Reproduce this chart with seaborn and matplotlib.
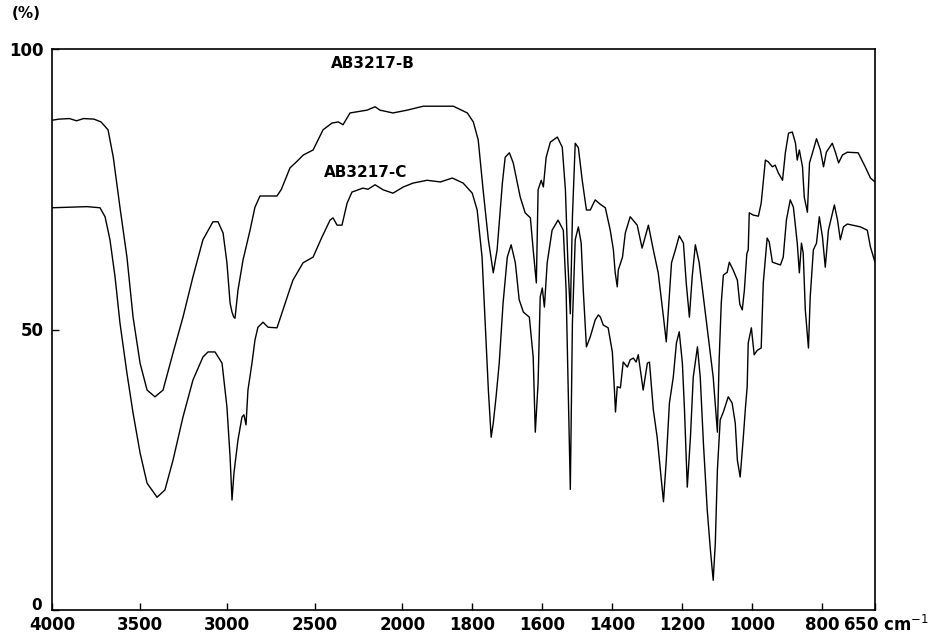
import numpy as np
import pandas as pd
import matplotlib
matplotlib.use("Agg")
import matplotlib.pyplot as plt
import seaborn as sns

# ---- data (wavenumber cm-1, transmittance %) ----
wn_b = [4000, 3960, 3900, 3860, 3820, 3760, 3720, 3680, 3650, 3612, 3572, 3537, 3497, 3457,
        3412, 3366, 3309, 3252, 3195, 3138, 3081, 3052, 3023, 3001, 2983, 2972, 2962, 2955,
        2938, 2909, 2869, 2841, 2812, 2715, 2690, 2641, 2600, 2565, 2509, 2452, 2401, 2365,
        2338, 2298, 2201, 2155, 2127, 2053, 1986, 1940, 1854, 1814, 1797, 1783, 1769, 1754,
        1740, 1729, 1714, 1706, 1694, 1683, 1663, 1649, 1634, 1626, 1617, 1612, 1603, 1597,
        1589, 1577, 1557, 1543, 1534, 1527, 1520, 1514, 1506, 1497, 1486, 1474, 1463, 1449,
        1434, 1420, 1406, 1397, 1392, 1386, 1383, 1371, 1363, 1349, 1329, 1315, 1297, 1283,
        1269, 1254, 1246, 1240, 1231, 1220, 1209, 1197, 1189, 1180, 1172, 1163, 1152, 1140,
        1126, 1112, 1100, 1095, 1089, 1083, 1072, 1066, 1055, 1043, 1036, 1029, 1023, 1016,
        1012, 1009, 998, 983, 975, 963, 955, 943, 935, 926, 914, 906, 897, 886, 877, 872,
        866, 857, 852, 843, 837, 828, 817, 806, 797, 789, 772, 763, 754, 743, 729, 698, 678,
        663, 650]
t_b = [87.3, 87.5, 87.6, 87.2, 87.6, 87.5, 87.0, 85.6, 80.7, 71.8, 62.9, 52.2, 44.0, 39.2,
       38.0, 39.2, 45.8, 52.2, 59.4, 66.0, 69.2, 69.2, 67.2, 61.9, 54.7, 53.1, 52.2, 52.0,
       57.0, 62.4, 67.7, 71.8, 73.8, 73.8, 75.0, 78.8, 80.0, 81.1, 82.0, 85.6, 86.8, 87.0,
       86.5, 88.6, 89.1, 89.7, 89.1, 88.6, 89.1, 89.8, 89.8, 88.6, 87.0, 83.8, 74.9, 66.0,
       60.1, 64.2, 76.1, 80.7, 81.5, 79.7, 73.6, 70.8, 69.9, 64.2, 58.3, 74.9, 76.6, 75.4,
       80.7, 83.4, 84.3, 82.5, 74.9, 62.0, 52.8, 70.0, 83.2, 82.4, 76.6, 71.3, 71.3, 73.1,
       72.3, 71.7, 67.7, 64.2, 60.2, 57.6, 60.6, 62.9, 67.2, 70.1, 68.6, 64.5, 68.6, 64.2,
       60.1, 52.2, 47.8, 53.5, 61.9, 64.2, 66.7, 65.4, 58.3, 52.2, 59.4, 65.1, 61.9, 55.8,
       48.7, 41.5, 31.7, 44.6, 54.7, 59.7, 60.2, 62.0, 60.6, 58.8, 54.5, 53.5, 57.0, 63.5,
       64.2, 70.8, 70.4, 70.2, 72.5, 80.2, 79.9, 79.0, 79.3, 77.9, 76.6, 81.5, 85.0, 85.2,
       83.2, 80.2, 82.0, 79.0, 73.6, 70.9, 79.7, 81.6, 84.0, 82.0, 79.0, 81.6, 83.2, 81.6,
       79.7, 81.1, 81.6, 81.5, 79.0, 77.0, 76.3]

wn_c = [4000, 3900, 3800, 3726, 3697, 3669, 3640, 3612, 3572, 3537, 3497, 3457, 3400, 3355,
        3309, 3252, 3195, 3138, 3109, 3069, 3029, 3001, 2983, 2972, 2961, 2938, 2915, 2904,
        2892, 2881, 2858, 2841, 2824, 2795, 2766, 2715, 2681, 2647, 2624, 2566, 2509, 2458,
        2412, 2395, 2372, 2344, 2315, 2287, 2224, 2195, 2155, 2109, 2053, 1997, 1969, 1929,
        1891, 1857, 1826, 1800, 1786, 1772, 1763, 1754, 1746, 1740, 1732, 1723, 1712, 1700,
        1689, 1677, 1666, 1654, 1637, 1626, 1620, 1612, 1606, 1600, 1594, 1586, 1572, 1555,
        1540, 1532, 1526, 1520, 1514, 1506, 1497, 1489, 1483, 1474, 1463, 1449, 1440, 1434,
        1426, 1412, 1400, 1394, 1391, 1386, 1377, 1369, 1357, 1349, 1340, 1332, 1326, 1312,
        1300, 1294, 1283, 1272, 1263, 1254, 1246, 1237, 1226, 1217, 1209, 1200, 1194, 1186,
        1177, 1169, 1157, 1149, 1140, 1129, 1120, 1112, 1106, 1100, 1092, 1083, 1069, 1058,
        1049, 1043, 1035, 1026, 1020, 1015, 1012, 1003, 995, 986, 975, 969, 958, 952, 943,
        920, 912, 903, 892, 883, 872, 866, 860, 855, 849, 840, 835, 826, 817, 809, 800, 792,
        783, 766, 757, 749, 740, 729, 692, 672, 663, 650]
t_c = [71.7, 71.8, 71.9, 71.7, 70.1, 66.0, 59.4, 51.2, 42.2, 35.1, 28.0, 22.6, 20.1, 21.4,
       26.7, 34.4, 41.0, 45.1, 46.0, 46.0, 44.0, 36.2, 27.3, 19.6, 24.4, 30.3, 34.4, 34.8,
       33.0, 39.2, 44.0, 48.1, 50.4, 51.3, 50.4, 50.3, 53.5, 56.7, 58.8, 61.9, 62.9, 66.5,
       69.5, 69.9, 68.6, 68.6, 72.5, 74.5, 75.2, 75.0, 75.8, 74.9, 74.3, 75.4, 76.1, 76.6,
       76.3, 77.0, 76.1, 74.3, 71.3, 62.9, 51.2, 39.2, 30.8, 33.3, 38.0, 44.0, 54.7, 62.9,
       65.1, 61.9, 55.3, 53.1, 52.2, 45.1, 31.7, 40.5, 55.8, 57.4, 54.0, 61.9, 67.7, 69.5,
       67.7, 57.0, 39.2, 21.5, 51.2, 66.0, 68.3, 65.4, 57.0, 46.9, 48.7, 51.7, 52.6, 52.2,
       50.8, 50.3, 46.0, 39.2, 35.3, 39.8, 39.6, 44.2, 43.3, 44.6, 44.9, 44.2, 45.5, 39.2,
       44.0, 44.2, 35.7, 30.8, 25.0, 19.3, 26.7, 36.9, 41.5, 47.6, 49.6, 44.0, 35.7, 21.9,
       30.8, 41.5, 46.9, 41.5, 29.8, 17.8, 10.7, 5.3, 11.9, 25.0, 33.9, 35.3, 38.0, 36.9,
       33.3, 26.7, 23.7, 30.8, 36.0, 39.8, 47.6, 50.3, 45.5, 46.3, 46.7, 58.3, 66.3, 65.6, 62.0,
       61.5, 62.9, 69.5, 73.1, 71.8, 65.4, 60.1, 65.4, 63.6, 53.5, 46.7, 55.8, 64.2, 65.4,
       70.1, 66.5, 61.1, 67.7, 72.2, 69.5, 66.0, 68.3, 68.8, 68.3, 67.7, 64.7, 62.0]

x_ticks = [4000, 3500, 3000, 2500, 2000, 1800, 1600, 1400, 1200, 1000, 800, 650]
x_tick_labels = ["4000", "3500", "3000", "2500", "2000", "1800", "1600", "1400", "1200",
                 "1000", "800", ""]
y_ticks = [0, 50, 100]
y_tick_labels = ["", "50", "100"]
series_names = ["AB3217-B", "AB3217-C"]


# ---- IR chart x scale: above 2000 cm-1 compressed 2:1 (monotonic increasing) ----
def fwd(w):
    w = np.asarray(w, dtype=float)
    return np.where(w <= 2000, w, 2000.0 + (w - 2000.0) / 2.0)


def inv(p):
    p = np.asarray(p, dtype=float)
    return np.where(p <= 2000, p, 2000.0 + 2.0 * (p - 2000.0))


sns.set_style("ticks")
plt.rcParams["font.family"] = ["DejaVu Sans"]
plt.rcParams["text.color"] = "black"
plt.rcParams["xtick.color"] = "black"
plt.rcParams["ytick.color"] = "black"
plt.rcParams["xtick.labelcolor"] = "black"
plt.rcParams["ytick.labelcolor"] = "black"

fig = plt.figure(figsize=(9.42, 6.34), dpi=100)
ax = fig.add_axes([52 / 942, 1 - 610 / 634, 823 / 942, 561 / 634])

df_b = pd.DataFrame({"wn": wn_b, "T": t_b})
df_c = pd.DataFrame({"wn": wn_c, "T": t_c})
sns.lineplot(data=df_b, x="wn", y="T", sort=False, estimator=None, color="black",
             linewidth=1.0, ax=ax)
sns.lineplot(data=df_c, x="wn", y="T", sort=False, estimator=None, color="black",
             linewidth=1.0, ax=ax)

ax.set_xscale("function", functions=(fwd, inv))
ax.set_xlim(4000, 650)
ax.set_ylim(0, 100)
ax.set_xticks(x_ticks)
ax.set_xticklabels(x_tick_labels, fontsize=12, fontweight="bold", color="black")
ax.set_yticks(y_ticks)
ax.set_yticklabels(y_tick_labels, fontsize=12, fontweight="bold", color="black")
ax.minorticks_off()
ax.tick_params(axis="both", direction="in", length=5, width=1.0, color="black")
ax.tick_params(axis="x", pad=4)
ax.tick_params(axis="y", pad=6)
ax.set_xlabel("")
ax.set_ylabel("")
for sp in ax.spines.values():
    sp.set_visible(True)
    sp.set_color("black")
    sp.set_linewidth(1.2)

# "0" label sits slightly above the bottom-left corner, as in the reference
ax.annotate("0", xy=(0, 0), xycoords="axes fraction", xytext=(-10, 4),
            textcoords="offset pixels", ha="right", va="center",
            fontsize=11, fontweight="bold", color="black")

ax.annotate("650 cm$^{-1}$", xy=(650, 0), xycoords=("data", "axes fraction"),
            xytext=(-32, -5), textcoords="offset pixels", ha="left", va="top",
            fontsize=12, fontweight="bold", color="black")

ax.text(2167, 97.5, series_names[0], ha="center", va="center", fontsize=11,
        fontweight="bold", color="black")
ax.text(2207, 77.9, series_names[1], ha="center", va="center", fontsize=11,
        fontweight="bold", color="black")

fig.text(12 / 942, 1 - 14 / 634, "(%)", ha="left", va="center", fontsize=11,
         fontweight="bold", color="black")

fig.savefig("out.png", dpi=100)
